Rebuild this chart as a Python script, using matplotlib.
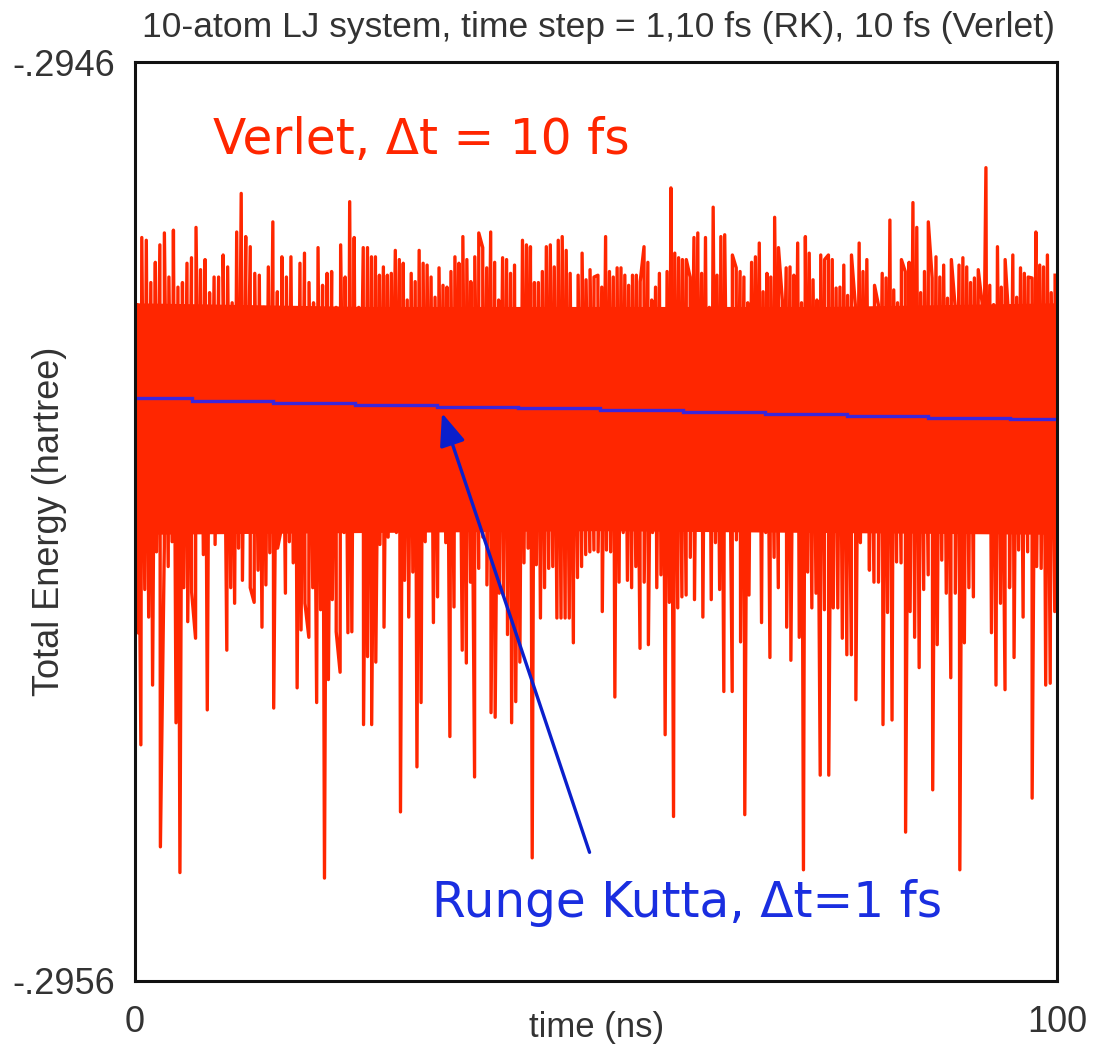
import numpy as np
import matplotlib
matplotlib.use("Agg")
import matplotlib.pyplot as plt

# Verlet (dt = 10 fs) total energy, hartree: upper extremes of the oscillation,
# read quarter by quarter along the time axis (0-25, 25-50, 50-75, 75-100 ns)
top_q1 = [-0.294864, -0.294791, -0.294794, -0.294840, -0.294818, -0.294799, -0.294786, -0.294834,
          -0.294783, -0.294845, -0.294840, -0.294819, -0.294813, -0.294780, -0.294826, -0.294815,
          -0.294851, -0.294834, -0.294834, -0.294810, -0.294823, -0.294862, -0.294785, -0.294743,
          -0.294790, -0.294801, -0.294830, -0.294832, -0.294867, -0.294823, -0.294774, -0.294850,
          -0.294812, -0.294834, -0.294812, -0.294873, -0.294819, -0.294808, -0.294840, -0.294862,
          -0.294802, -0.294843, -0.294830, -0.294828, -0.294867, -0.294799, -0.294834, -0.294752,
          -0.294791, -0.294867, -0.294802]
top_q2 = [-0.294802, -0.294812, -0.294812, -0.294832, -0.294823, -0.294832, -0.294830, -0.294805,
          -0.294815, -0.294819, -0.294859, -0.294830, -0.294839, -0.294805, -0.294819, -0.294821,
          -0.294834, -0.294856, -0.294824, -0.294843, -0.294845, -0.294828, -0.294812, -0.294819,
          -0.294790, -0.294815, -0.294839, -0.294812, -0.294786, -0.294802, -0.294824, -0.294785,
          -0.294818, -0.294859, -0.294813, -0.294815, -0.294830, -0.294821, -0.294870, -0.294794,
          -0.294799, -0.294801, -0.294840, -0.294840, -0.294828, -0.294801, -0.294799, -0.294823,
          -0.294794, -0.294790, -0.294805, -0.294830, -0.294870, -0.294832, -0.294808, -0.294837,
          -0.294826, -0.294834]
top_q3 = [-0.294832, -0.294845, -0.294790, -0.294828, -0.294834, -0.294824, -0.294824, -0.294832,
          -0.294843, -0.294832, -0.294832, -0.294839, -0.294801, -0.294818, -0.294859, -0.294845,
          -0.294830, -0.294873, -0.294828, -0.294737, -0.294808, -0.294813, -0.294815, -0.294815,
          -0.294834, -0.294791, -0.294786, -0.294830, -0.294791, -0.294867, -0.294758, -0.294832,
          -0.294790, -0.294788, -0.294873, -0.294810, -0.294824, -0.294828, -0.294834, -0.294862,
          -0.294818, -0.294812, -0.294797, -0.294850, -0.294830, -0.294834, -0.294769, -0.294802,
          -0.294859, -0.294824, -0.294823, -0.294832, -0.294797, -0.294862, -0.294790, -0.294808,
          -0.294837, -0.294859, -0.294810, -0.294815]
top_q4 = [-0.294810, -0.294815, -0.294846, -0.294845, -0.294821, -0.294854, -0.294810, -0.294864,
          -0.294797, -0.294828, -0.294815, -0.294883, -0.294843, -0.294864, -0.294830, -0.294835,
          -0.294772, -0.294848, -0.294862, -0.294815, -0.294828, -0.294818, -0.294753, -0.294780,
          -0.294851, -0.294828, -0.294774, -0.294835, -0.294812, -0.294834, -0.294821, -0.294857,
          -0.294815, -0.294867, -0.294821, -0.294813, -0.294823, -0.294840, -0.294835, -0.294826,
          -0.294862, -0.294715, -0.294843, -0.294864, -0.294801, -0.294845, -0.294815, -0.294884,
          -0.294810, -0.294856, -0.294824, -0.294830, -0.294834, -0.294835, -0.294785, -0.294821,
          -0.294823, -0.294810, -0.294851, -0.294832]

# lower extremes of the Verlet oscillation, same quarters
bot_q1 = [-0.295221, -0.295343, -0.295174, -0.295204, -0.295278, -0.295133, -0.295454, -0.295128,
          -0.295149, -0.295122, -0.295319, -0.295482, -0.295172, -0.295209, -0.295177, -0.295227,
          -0.295100, -0.295136, -0.295305, -0.295104, -0.295125, -0.295093, -0.295107, -0.295240,
          -0.295172, -0.295189, -0.295129, -0.295164, -0.295096, -0.295172, -0.295188, -0.295153,
          -0.295215, -0.295169, -0.295134, -0.295303, -0.295129, -0.295107, -0.295178, -0.295122,
          -0.295145, -0.295281, -0.295218, -0.295189, -0.295226, -0.295172, -0.295297, -0.295196,
          -0.295488, -0.295272, -0.295185, -0.295220, -0.295264, -0.295112, -0.295221, -0.295220,
          -0.295104, -0.295104, -0.295321]
bot_q2 = [-0.295247, -0.295321, -0.295253, -0.295125, -0.295215, -0.295117, -0.295090, -0.295112,
          -0.295416, -0.295164, -0.295204, -0.295155, -0.295367, -0.295297, -0.295122, -0.295087,
          -0.295210, -0.295182, -0.295087, -0.295123, -0.295334, -0.295193, -0.295085, -0.295240,
          -0.295254, -0.295166, -0.295378, -0.295151, -0.295117, -0.295169, -0.295308, -0.295313,
          -0.295178, -0.295180, -0.295223, -0.295319, -0.295296, -0.295253, -0.295145, -0.295129,
          -0.295466, -0.295147, -0.295205, -0.295172, -0.295151, -0.295149, -0.295205, -0.295205,
          -0.295205, -0.295205, -0.295232, -0.295161, -0.295149, -0.295136, -0.295133, -0.295131]
bot_q3 = [-0.295133, -0.295198, -0.295131, -0.295133, -0.295291, -0.295166, -0.295112, -0.295164,
          -0.295172, -0.295149, -0.295238, -0.295166, -0.295234, -0.295112, -0.295172, -0.295158,
          -0.295332, -0.295188, -0.295421, -0.295194, -0.295182, -0.295180, -0.295139, -0.295185,
          -0.295104, -0.295204, -0.295080, -0.295185, -0.295123, -0.295174, -0.295285, -0.295109,
          -0.295285, -0.295120, -0.295231, -0.295419, -0.295180, -0.295104, -0.295104, -0.295210,
          -0.295112, -0.295248, -0.295139, -0.295172, -0.295082, -0.295215, -0.295251, -0.295109,
          -0.295226, -0.295479, -0.295155, -0.295194, -0.295178, -0.295376, -0.295196]
bot_q4 = [-0.295376, -0.295194, -0.295194, -0.295227, -0.295245, -0.295245, -0.295294, -0.295123,
          -0.295091, -0.295153, -0.295166, -0.295166, -0.295321, -0.295199, -0.295316, -0.295144,
          -0.295145, -0.295438, -0.295198, -0.295226, -0.295259, -0.295174, -0.295158, -0.295392,
          -0.295234, -0.295142, -0.295178, -0.295270, -0.295178, -0.295479, -0.295232, -0.295172,
          -0.295182, -0.295102, -0.295087, -0.295090, -0.295221, -0.295278, -0.295189, -0.295283,
          -0.295172, -0.295248, -0.295131, -0.295204, -0.295133, -0.295401, -0.295149, -0.295151,
          -0.295278, -0.295276, -0.295198]

# solid core of the Verlet band (where the oscillation is too dense to resolve)
core_t = [0, 25, 50, 75, 100]
core_hi = [-0.294862, -0.294866, -0.294866, -0.294866, -0.294862]
core_lo = [-0.295114, -0.295112, -0.295110, -0.295112, -0.295114]

# Runge Kutta (dt = 1 fs): slow stepwise drift
rk_edges = [0, 6.2, 15.0, 23.9, 32.8, 41.5, 50.4, 59.4, 68.3, 77.2, 86.0, 94.9, 100]
rk_energy = [-0.294966, -0.294969, -0.294971, -0.294973, -0.294975, -0.294977,
             -0.294979, -0.294981, -0.294983, -0.294985, -0.294987, -0.294989]

quarters = [0, 25, 50, 75, 100]
yticks = [-0.2946, -0.2956]
ytick_labels = ['-.2946', '-.2956']
xticks = [0, 100]
xtick_labels = ['0', '100']

RED = '#ff2600'
BLUE = '#1a2ee0'
GREY = '#333333'
LABEL_FONT = ['Liberation Sans', 'DejaVu Sans']


def spread(chunks):
    # place each quarter's samples evenly inside that quarter
    t = []
    for k, vals in enumerate(chunks):
        a, b = quarters[k], quarters[k + 1]
        step = (b - a) / len(vals)
        t.extend(a + step * (np.arange(len(vals)) + 0.5))
    return np.array(t), np.concatenate(chunks)


t_top, e_top = spread([top_q1, top_q2, top_q3, top_q4])
t_bot, e_bot = spread([bot_q1, bot_q2, bot_q3, bot_q4])
t_all = np.concatenate([t_top, t_bot])
e_all = np.concatenate([e_top, e_bot])
order = np.argsort(t_all, kind='stable')

fig = plt.figure(figsize=(10.94, 10.52), dpi=100)
ax = fig.add_axes([135 / 1094, 1 - 981 / 1052, 922 / 1094, 919 / 1052])

ax.fill_between(core_t, core_lo, core_hi, color=RED, lw=0, zorder=2)
ax.plot(t_all[order], e_all[order], color=RED, lw=2.4, zorder=2)
ax.stairs(rk_energy, rk_edges, baseline=None, color='#3a26dc', lw=2.4, zorder=3)

ax.set_xlim(0, 100)
ax.set_ylim(-0.2956, -0.2946)
ax.set_xticks(xticks)
ax.set_xticklabels(xtick_labels, family=LABEL_FONT, fontsize=26, color=GREY)
ax.set_yticks(yticks)
ax.set_yticklabels(ytick_labels, family=LABEL_FONT, fontsize=26, color=GREY)
ax.tick_params(axis='both', length=0)
ax.tick_params(axis='x', pad=17)
ax.tick_params(axis='y', pad=14)
for s in ax.spines.values():
    s.set_linewidth(2.2)
    s.set_color('#111111')
    s.set_zorder(5)

ax.text(8.46, -0.294685, 'Verlet, \u0394t = 10 fs', color=RED, fontsize=35,
        family='DejaVu Sans', ha='left', va='center', zorder=6)
ax.text(32.2, -0.295515, 'Runge Kutta, \u0394t=1 fs', color=BLUE, fontsize=35,
        family='DejaVu Sans', ha='left', va='center', zorder=6)
ax.annotate('', xy=(33.3, -0.294982), xytext=(49.3, -0.295460),
            arrowprops=dict(arrowstyle='-|>,head_length=0.55,head_width=0.22',
                            color='#0a1fcc', lw=2.4, mutation_scale=36,
                            shrinkA=0, shrinkB=0), zorder=6)

fig.text(599 / 1094, 1 - 27 / 1052,
         '10-atom LJ system, time step = 1,10 fs (RK), 10 fs (Verlet)',
         ha='center', va='center', fontsize=25.5, family=LABEL_FONT, color=GREY)
fig.text(597 / 1094, 1 - 1027 / 1052, 'time (ns)', ha='center', va='center',
         fontsize=25, family=LABEL_FONT, color=GREY)
fig.text(50 / 1094, 1 - 521 / 1052, 'Total Energy (hartree)', ha='center', va='center',
         rotation=90, fontsize=26, family=LABEL_FONT, color=GREY)

fig.savefig('out.png', dpi=100)
